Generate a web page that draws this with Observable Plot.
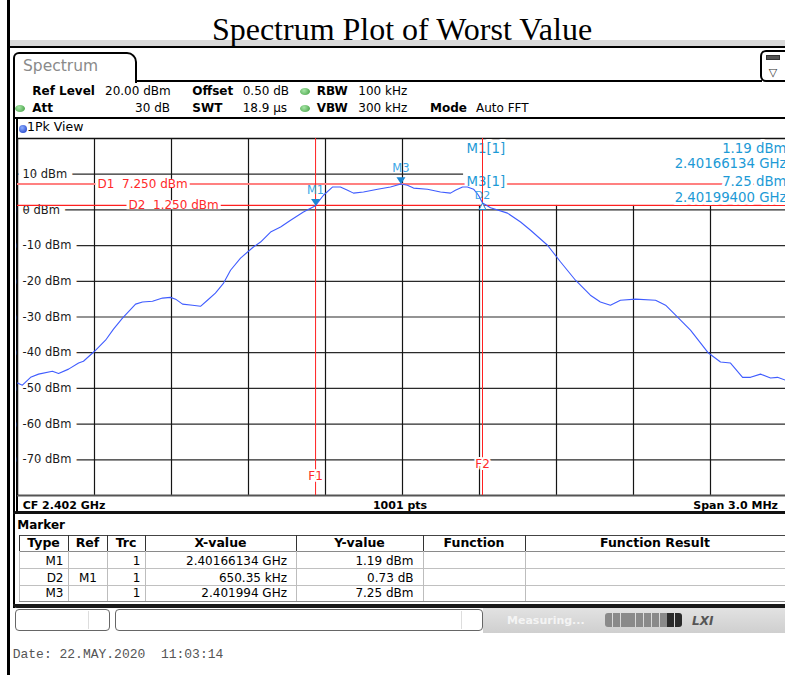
<!DOCTYPE html>
<html><head><meta charset="utf-8">
<script src="https://cdn.jsdelivr.net/npm/d3@7"></script>
<script src="https://cdn.jsdelivr.net/npm/@observablehq/plot@0.6"></script>
<style>
html,body{margin:0;padding:0;background:#fff;}
#page{position:relative;width:785px;height:675px;overflow:hidden;background:#fff;}
</style></head>
<body><div id="page"></div>
<script>
// ---------- data ----------
const freqMHz = [2400.500,2400.519,2400.551,2400.582,2400.636,2400.660,2400.699,2400.738,2400.757,2400.800,
  2400.843,2400.874,2400.909,2400.960,2400.987,2401.026,2401.065,2401.096,2401.116,2401.143,
  2401.182,2401.213,2401.240,2401.271,2401.303,2401.330,2401.369,2401.419,2401.447,2401.486,
  2401.525,2401.564,2401.614,2401.661,2401.692,2401.727,2401.758,2401.786,2401.809,2401.848,
  2401.903,2401.953,2401.994,2402.019,2402.043,2402.097,2402.148,2402.187,2402.206,2402.234,
  2402.253,2402.277,2402.296,2402.312,2402.343,2402.409,2402.460,2402.499,2402.565,2402.616,
  2402.674,2402.732,2402.771,2402.810,2402.849,2402.908,2402.986,2403.025,2403.064,2403.122,
  2403.192,2403.239,2403.278,2403.325,2403.356,2403.395,2403.434,2403.461,2403.492];
const levelDbm = [-48.5,-49.1,-46.9,-46.0,-45.2,-45.8,-44.6,-42.9,-42.4,-39.6,
  -36.5,-33.4,-30.3,-26.4,-25.8,-25.6,-24.7,-24.5,-25.0,-26.4,
  -26.7,-27.0,-25.3,-23.3,-20.5,-16.9,-13.5,-10.4,-9.0,-6.2,
  -4.8,-2.9,-0.6,1.19,4.1,6.4,6.4,5.5,4.7,5.0,
  5.8,6.4,7.25,6.9,6.1,5.8,5.0,4.7,5.5,6.4,
  6.4,5.8,4.1,1.92,0.6,-0.9,-3.4,-5.7,-9.9,-14.6,
  -19.7,-23.9,-25.8,-26.7,-25.3,-25.0,-25.3,-26.7,-29.5,-33.7,
  -40.1,-42.6,-42.9,-46.9,-46.9,-46.0,-47.1,-46.9,-47.7];
const freqDomainMHz = [2400.5, 2403.5];
const levelDomainDbm = [-80, 20];
const yTickValues = [10,0,-10,-20,-30,-40,-50,-60,-70];
const yTickLabels = ["10 dBm","0 dBm","-10 dBm","-20 dBm","-30 dBm","-40 dBm","-50 dBm","-60 dBm","-70 dBm"];
const xGridMHz = [2400.8,2401.1,2401.4,2401.7,2402.0,2402.3,2402.6,2402.9,2403.2];
const markerNames = ["M1","M3"];
const markerFreqMHz = [2401.66134, 2401.994];
const markerLevelDbm = [1.19, 7.25];
const deltaNames = ["D2"];
const deltaFreqMHz = [2402.31169];
const deltaLevelDbm = [1.92];
const displayLineNames = ["D1","D2"];
const displayLineDbm = [7.25, 1.25];
const freqLineNames = ["F1","F2"];
const freqLineMHz = [2401.66134, 2402.31169];
const infoLeft = ["M1[1]", "", "M3[1]", ""];
const infoRight = ["1.19 dBm", "2.40166134 GHz", "7.25 dBm", "2.40199400 GHz"];
const tableHeader = ["Type","Ref","Trc","X-value","Y-value","Function","Function Result"];
const tableRows = [
  ["M1","","1","2.40166134 GHz","1.19 dBm","",""],
  ["D2","M1","1","650.35 kHz","0.73 dB","",""],
  ["M3","","1","2.401994 GHz","7.25 dBm","",""]];

// ---------- helpers for the instrument frame ----------
const page = document.getElementById("page");
function box(x, y, w, h, style) {
  const d = document.createElement("div");
  d.style.cssText = `position:absolute;left:${x}px;top:${y}px;width:${w}px;height:${h}px;box-sizing:border-box;${style||""}`;
  page.appendChild(d); return d;
}
const FONTS = {sans:["DejaVu Sans",0.846], serif:["Liberation Serif",0.8375], mono:["Liberation Mono",0.767]};
function txt(x, base, s, o) {
  o = o || {};
  const size = o.size || 12, [fam, k] = FONTS[o.font || "sans"];
  const tx = o.anchor === "end" ? "-100%" : o.anchor === "middle" ? "-50%" : "0";
  const d = document.createElement("div");
  d.textContent = s;
  d.style.cssText = `position:absolute;left:${x}px;top:${base - k*size}px;font-family:'${fam}';font-size:${size}px;line-height:${size}px;white-space:pre;color:${o.color||"#000"};font-weight:${o.bold?"bold":"normal"};font-style:${o.italic?"italic":"normal"};transform:translateX(${tx});${o.extra||""}`;
  page.appendChild(d); return d;
}

// title
box(10, 40, 775, 6, "background:#d9d9d9");
box(7, 46, 778, 2, "background:#000");
box(7, 0, 3, 675, "background:#000");
txt(402, 40, "Spectrum Plot of Worst Value", {font:"serif", size:32, anchor:"middle"});

// tab + top line
box(13, 52, 124, 31, "border:2px solid #000;border-bottom:none;border-radius:6px 10px 0 0;background:#fff");
txt(23, 72, "Spectrum", {size:15.5, color:"#8a8a8a"});
box(135, 80, 627, 2, "background:#000");
box(760, 50, 32, 32, "border:2px solid #000;border-radius:6px;background:#fff");
box(766, 55, 14, 5, "background:#555;border:1px solid #333");
txt(773, 76, "\u25BD", {size:11, anchor:"middle", color:"#333"});
// panel left border
box(13, 80, 2, 528, "background:#000");

// header parameters
function dot(cx, cy, c1, c2) { box(cx-5, cy-3.5, 10, 7, `border-radius:50%;background:radial-gradient(circle at 40% 35%, ${c1}, ${c2})`); }
txt(32.3, 95, "Ref Level", {bold:true});
txt(105, 95, "20.00 dBm");
txt(192.3, 95, "Offset", {bold:true});
txt(242.7, 95, "0.50 dB");
dot(305, 91.5, "#a6e6a6", "#3c9a3c");
txt(316.7, 95, "RBW", {bold:true});
txt(358.3, 95, "100 kHz");
dot(20, 108, "#a6e6a6", "#3c9a3c");
txt(32.3, 112, "Att", {bold:true});
txt(170, 112, "30 dB", {anchor:"end"});
txt(192.3, 112, "SWT", {bold:true});
txt(242.7, 112, "18.9 \u00b5s");
dot(305, 108, "#a6e6a6", "#3c9a3c");
txt(316.7, 112, "VBW", {bold:true});
txt(358.3, 112, "300 kHz");
txt(430, 112, "Mode", {bold:true});
txt(476, 112, "Auto FFT");
box(15, 117, 770, 1.5, "background:#000");
// view box
box(16, 118, 1.5, 395, "background:#000");
box(18.5, 124.5, 8, 8, "border-radius:50%;background:radial-gradient(circle at 40% 35%, #8fb0ff, #1030c0)");
txt(27, 132, "1Pk View", {size:12.5});

// bottom labels of the diagram
txt(22.7, 509, "CF 2.402 GHz", {size:11, bold:true});
txt(400, 509, "1001 pts", {size:11, bold:true, anchor:"middle"});
txt(778, 509, "Span 3.0 MHz", {size:11, bold:true, anchor:"end"});
box(13, 511, 772, 3, "background:#111;border-radius:4px 0 0 0");

// marker table
txt(17.3, 529.5, "Marker", {size:12, bold:true});
const colEdges = [19, 68, 107, 145, 296, 423, 525, 785];
const rowBottoms = [551, 568, 585, 601];
const rightEnds = [63.5, 97, 140.5, 287, 413.5, 515, 775];
box(19, 534.5, 766, 1.5, "background:#444");
rowBottoms.forEach((y, i) => box(19, y, 766, 1, `background:${i===0?"#8a8a8a":i===3?"#8a8a8a":"#c0c0c0"}`));
colEdges.forEach((x, i) => {
  box(x, 535, 1.2, 16, "background:#333");
  box(x, 551, 1, 50, "background:#bdbdbd");
});
tableHeader.forEach((h, i) => txt((colEdges[i] + colEdges[i+1]) / 2, 548, h, {size:12.5, bold:true, anchor:"middle"}));
const rowBase = [565, 581.7, 597.5];
tableRows.forEach((r, j) => r.forEach((c, i) => { if (c) txt(rightEnds[i], rowBase[j], c, {size:12, anchor:"end"}); }));

// panel bottom and status bar
box(13, 604, 772, 4, "background:#1a1a1a;border-radius:0 0 0 5px");
box(483, 608, 302, 25, "background:linear-gradient(#e2e2e2,#cfcfcf)");
box(15, 609, 95, 22, "border:1px solid #666;border-radius:4px;background:#fff");
box(88, 611, 1, 18, "background:#ddd");
box(115, 609, 368, 22, "border:1px solid #666;border-radius:4px;background:#fff");
box(461, 611, 1, 18, "background:#ddd");
txt(507, 624, "Measuring...", {size:11, bold:true, color:"#f4f4f4"});
for (let k = 0; k < 10; k++) box(605 + k*7.8, 613, 7, 14, `background:${k>=8?"#2a2a2a":"#8a8a8a"};border-radius:${k===0?"3px 0 0 3px":k===9?"0 3px 3px 0":"0"}`);
txt(692, 625, "LXI", {size:12, bold:true, italic:true, color:"#555"});

// date
txt(12.7, 657.7, "Date: 22.MAY.2020  11:03:14", {font:"mono", size:13, color:"#555"});

// ---------- the chart ----------
const trace = freqMHz.map((f, i) => ({f, dbm: levelDbm[i]}));
const markers = markerNames.map((name, i) => ({name, f: markerFreqMHz[i], dbm: markerLevelDbm[i]}));
const deltas = deltaNames.map((name, i) => ({name, f: deltaFreqMHz[i], dbm: deltaLevelDbm[i]}));
const displayLines = displayLineNames.map((name, i) => ({name, dbm: displayLineDbm[i]}));
const freqLines = freqLineNames.map((name, i) => ({name, f: freqLineMHz[i]}));
const yTicks = yTickValues.map((v, i) => ({v, label: yTickLabels[i]}));
// white area behind the marker read-out (from read-out column to the right edge, down to the D2 line)
const infoBox = {x1: 2402.238, x2: freqDomainMHz[1], y1: displayLineDbm[1], y2: levelDomainDbm[1]};

const triDown = {draw(ctx, size) { const r = Math.sqrt(size / Math.PI); ctx.moveTo(0, 0); ctx.lineTo(-r, -1.5*r); ctx.lineTo(r, -1.5*r); ctx.closePath(); }};
const triUp = {draw(ctx, size) { const r = Math.sqrt(size / Math.PI); ctx.moveTo(0, 0); ctx.lineTo(-0.75*r, 1.45*r); ctx.lineTo(0.75*r, 1.45*r); ctx.closePath(); }};

const RED = "#ff2a2a", BLUE_T = "#1c9ad6", BLUE_M = "#1a86d2", BLUE_L = "#3aa6e6";
const halo = {stroke: "white", strokeLinejoin: "round"};
const dLabel = d => `${d.name}\u00a0 ${d.dbm.toFixed(3)} dBm`;

const marks = [
  Plot.ruleY(yTickValues, {stroke: "#2a2a2a", strokeWidth: 1.2}),
  Plot.ruleX(xGridMHz, {stroke: "#151515", strokeWidth: 1.2}),
  Plot.rect([infoBox], {x1: "x1", x2: "x2", y1: "y1", y2: "y2", fill: "white"}),
  Plot.ruleY([levelDomainDbm[1]], {stroke: "#111", strokeWidth: 1.5}),
  Plot.ruleY([levelDomainDbm[0]], {stroke: "#555", strokeWidth: 2}),
  Plot.text(yTicks, {y: "v", text: "label", frameAnchor: "left", textAnchor: "start", dx: 5, fontSize: 11.5, fill: "#1a1a1a", ...halo, strokeWidth: 12}),
  Plot.ruleX([freqDomainMHz[0]], {stroke: "#111", strokeWidth: 1.5}),
  Plot.ruleY([displayLines[0]], {y: "dbm", stroke: "#ff8080", strokeWidth: 2}),
  Plot.ruleY([displayLines[1]], {y: "dbm", stroke: "#ff2020", strokeWidth: 1.2}),
  Plot.text([displayLines[0]], {y: "dbm", text: dLabel, frameAnchor: "left", textAnchor: "start", dx: 80, fontSize: 12, fill: RED}),
  Plot.text([displayLines[1]], {y: "dbm", text: dLabel, frameAnchor: "left", textAnchor: "start", dx: 111, fontSize: 12, fill: RED})
];
const rowDy = [14, 29.5, 47, 63.7];
infoRight.forEach((s, i) => {
  marks.push(Plot.text([s], {text: d => d, frameAnchor: "top-right", textAnchor: "end", lineAnchor: "bottom", dx: -1, dy: rowDy[i], fontSize: 13.3, fill: BLUE_T, ...halo, strokeWidth: 6}));
  if (infoLeft[i]) marks.push(Plot.text([infoLeft[i]], {text: d => d, frameAnchor: "top-left", textAnchor: "start", lineAnchor: "bottom", dx: 449, dy: rowDy[i], fontSize: 13.3, fill: BLUE_T, ...halo, strokeWidth: 6}));
});
marks.push(
  Plot.ruleX(freqLines, {x: "f", stroke: "#ff2020", strokeWidth: 1}),
  Plot.text([freqLines[0]], {x: "f", text: "name", frameAnchor: "bottom", lineAnchor: "middle", dy: -19, fontSize: 12, fill: RED, ...halo, strokeWidth: 4}),
  Plot.text([freqLines[1]], {x: "f", text: "name", frameAnchor: "bottom", lineAnchor: "middle", dy: -31, fontSize: 12, fill: RED, ...halo, strokeWidth: 4}),
  Plot.line(trace, {x: "f", y: "dbm", stroke: "#3f5cff", strokeWidth: 1.1}),
  Plot.dot(markers, {x: "f", y: "dbm", symbol: triDown, r: 4.5, fill: BLUE_M, stroke: null}),
  Plot.text(markers, {x: "f", y: "dbm", text: "name", dy: -15.5, fontSize: 11.5, fill: BLUE_L}),
  Plot.dot(deltas, {x: "f", y: "dbm", symbol: triUp, r: 4.5, fill: "white", stroke: BLUE_M, strokeWidth: 1}),
  Plot.text(deltas, {x: "f", y: "dbm", text: "name", dy: -7.5, fontSize: 11, fill: BLUE_L})
);

const chart = Plot.plot({
  width: 787, height: 360,
  marginTop: 1, marginBottom: 2, marginLeft: 17, marginRight: 0,
  x: {domain: freqDomainMHz, axis: null},
  y: {domain: levelDomainDbm, axis: null},
  style: {background: "transparent", maxWidth: "none", overflow: "visible", fontFamily: "DejaVu Sans"},
  marks
});
const holder = document.createElement("div");
holder.style.cssText = "position:absolute;left:0;top:137px;width:787px;height:360px;";
holder.appendChild(chart);
page.appendChild(holder);

// solid white backing behind the display-line labels (breaks the red line, like the instrument)
const labelTexts = new Set(displayLines.map(dLabel));
chart.querySelectorAll("text").forEach(t => {
  if (!labelTexts.has(t.textContent)) return;
  const b = t.getBBox();
  const r = document.createElementNS("http://www.w3.org/2000/svg", "rect");
  const cy = b.y + b.height / 2;
  r.setAttribute("x", b.x - 2);
  r.setAttribute("width", b.width + 4);
  r.setAttribute("y", cy - 5);
  r.setAttribute("height", 9);
  r.setAttribute("fill", "white");
  if (t.getAttribute("transform")) r.setAttribute("transform", t.getAttribute("transform"));
  t.parentNode.insertBefore(r, t);
});
</script>
</body></html>
